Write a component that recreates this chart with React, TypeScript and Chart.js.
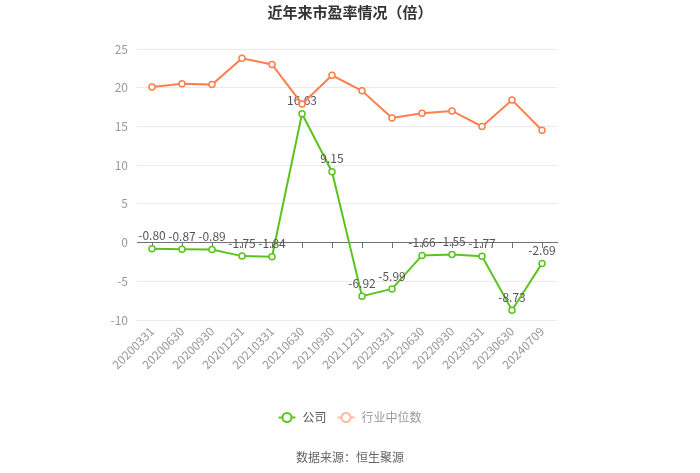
import React, { useEffect, useRef } from "react";
import { Chart, registerables } from "chart.js";

Chart.register(...registerables);

const categories = [
  "20200331", "20200630", "20200930", "20201231", "20210331", "20210630", "20210930",
  "20211231", "20220331", "20220630", "20220930", "20230331", "20230630", "20240709",
];
const companyPE = [-0.8, -0.87, -0.89, -1.75, -1.84, 16.63, 9.15, -6.92, -5.99, -1.66, -1.55, -1.77, -8.73, -2.69];
const industryPE = [20.1, 20.5, 20.4, 23.8, 23.0, 17.9, 21.6, 19.6, 16.1, 16.7, 17.0, 15.0, 18.4, 14.5];
const yMin = -10;
const yMax = 25;
const yStep = 5;
const seriesNames = ["公司", "行业中位数"];
const titleText = "近年来市盈率情况（倍）";
const sourceText = "数据来源：恒生聚源";

const FONT = "'Noto Sans CJK SC', 'Noto Sans', sans-serif";
const GREEN = "#5ac31e";
const ORANGE = "#fd7f4e";

export default function App() {
  const ref = useRef<HTMLCanvasElement>(null);

  useEffect(() => {
    if (!ref.current) return;

    const labelPlugin = {
      id: "valueLabels",
      afterDatasetDraw(chart: any, args: any) {
        if (args.index !== 0) return;
        const meta = chart.getDatasetMeta(0);
        const ctx = chart.ctx;
        ctx.save();
        ctx.font = `12px ${FONT}`;
        ctx.fillStyle = "#555";
        ctx.textAlign = "center";
        ctx.textBaseline = "middle";
        meta.data.forEach((pt: any, i: number) => {
          ctx.fillText(companyPE[i].toFixed(2), pt.x, pt.y - 13);
        });
        ctx.restore();
      },
    };

    const decorPlugin = {
      id: "decor",
      afterDraw(chart: any) {
        const ctx = chart.ctx;
        const w = chart.width;
        ctx.save();
        // title
        ctx.fillStyle = "#333";
        ctx.font = `bold 15px ${FONT}`;
        ctx.textAlign = "center";
        ctx.textBaseline = "middle";
        ctx.fillText(titleText, w / 2, 12);

        // legend
        ctx.font = `12px ${FONT}`;
        ctx.textAlign = "left";
        const iconW = 17;
        const gap = 7;
        const itemGap = 11;
        const items = [
          { name: seriesNames[0], icon: GREEN, text: "#555" },
          { name: seriesNames[1], icon: "#ffb89b", text: "#999" },
        ];
        const widths = items.map((it) => iconW + gap + ctx.measureText(it.name).width);
        const total = widths.reduce((a, b) => a + b, 0) + itemGap * (items.length - 1);
        let x = w / 2 - total / 2;
        const ly = 417.5;
        items.forEach((it, i) => {
          ctx.strokeStyle = it.icon;
          ctx.lineWidth = 2;
          ctx.beginPath();
          ctx.moveTo(x, ly);
          ctx.lineTo(x + iconW, ly);
          ctx.stroke();
          ctx.beginPath();
          ctx.arc(x + iconW / 2, ly, 4.5, 0, Math.PI * 2);
          ctx.fillStyle = "#fff";
          ctx.fill();
          ctx.stroke();
          ctx.fillStyle = it.text;
          ctx.fillText(it.name, x + iconW + gap, ly);
          x += widths[i] + itemGap;
        });

        // source
        ctx.font = `12px ${FONT}`;
        ctx.fillStyle = "#666";
        ctx.textAlign = "center";
        ctx.fillText(sourceText, w / 2, 457);
        ctx.restore();
      },
    };

    const chart = new Chart(ref.current, {
      type: "line",
      data: {
        labels: categories,
        datasets: [
          {
            label: seriesNames[0],
            data: companyPE,
            borderColor: GREEN,
            backgroundColor: "#fff",
            borderWidth: 2,
            pointRadius: 3,
            pointBorderWidth: 1.5,
            pointBackgroundColor: "#fff",
            pointBorderColor: GREEN,
            tension: 0,
            order: 1,
            xAxisID: "x",
          },
          {
            label: seriesNames[1],
            data: industryPE,
            borderColor: ORANGE,
            backgroundColor: "#fff",
            borderWidth: 2,
            pointRadius: 3,
            pointBorderWidth: 1.5,
            pointBackgroundColor: "#fff",
            pointBorderColor: ORANGE,
            tension: 0,
            order: 0,
            xAxisID: "x",
          },
        ],
      },
      options: {
        animation: false,
        responsive: true,
        maintainAspectRatio: false,
        layout: { padding: { left: 0, right: 143, top: 49, bottom: 93 } },
        plugins: {
          legend: { display: false },
          title: { display: false },
          tooltip: { enabled: false },
        },
        scales: {
          x: {
            type: "category",
            position: { y: 0 } as any,
            offset: true,
            ticks: { display: false },
            grid: {
              display: true,
              drawOnChartArea: false,
              drawTicks: true,
              tickLength: 5,
              offset: false,
              color: "#6e7079",
            },
            border: { display: true, color: "#6e7079", width: 1 },
          },
          x2: {
            type: "category",
            position: "bottom",
            offset: true,
            grid: { display: false, drawTicks: false },
            border: { display: false },
            ticks: {
              maxRotation: 45,
              minRotation: 45,
              autoSkip: false,
              padding: 4,
              color: "#999",
              font: { size: 12, family: FONT },
            },
            afterFit: (s: any) => {
              s.height = 60;
            },
          },
          y: {
            type: "linear",
            min: yMin,
            max: yMax,
            ticks: {
              stepSize: yStep,
              padding: 9,
              color: "#999",
              font: { size: 12, family: FONT },
            },
            grid: {
              drawTicks: false,
              color: (c: any) => (c.tick && c.tick.value === 0 ? "rgba(0,0,0,0)" : "#e8ebf2"),
            },
            border: { display: false },
            afterFit: (s: any) => {
              s.width = 137;
            },
          },
        },
      },
      plugins: [labelPlugin, decorPlugin],
    });

    return () => chart.destroy();
  }, []);

  return (
    <div style={{ position: "fixed", left: 0, top: 0, width: 700, height: 473, background: "#fff" }}>
      <canvas ref={ref} />
    </div>
  );
}
